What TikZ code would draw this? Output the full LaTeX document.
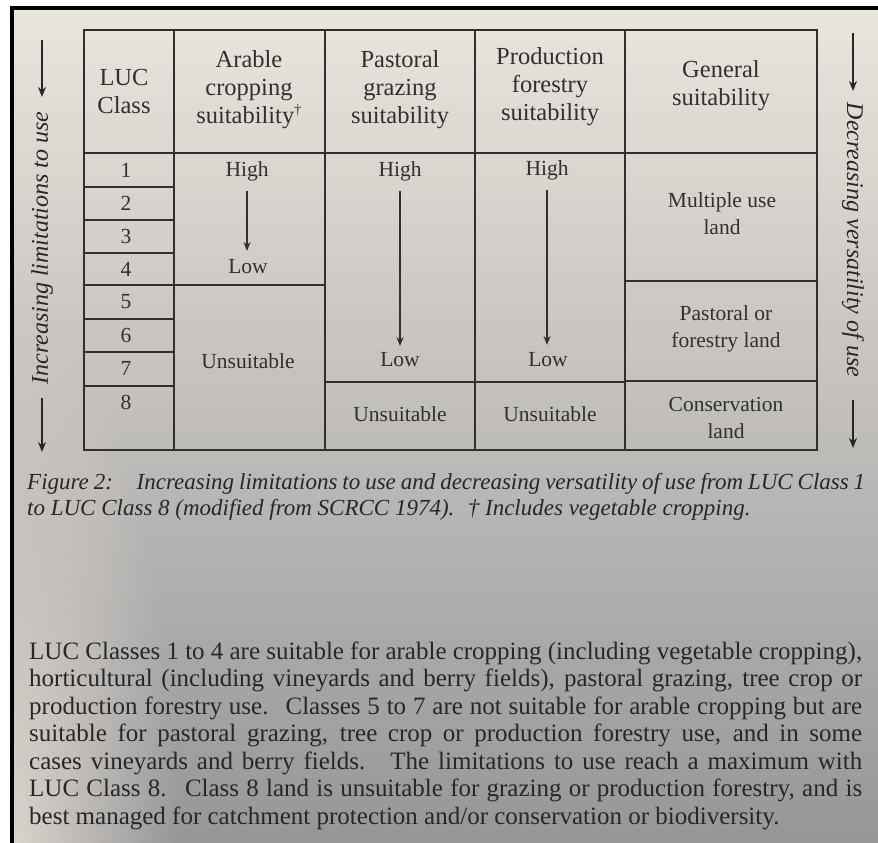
\documentclass[tikz,border=0pt]{standalone}
\usepackage{fontspec}
\setmainfont{Liberation Serif}
\usetikzlibrary{arrows.meta,fadings}
\definecolor{ink}{RGB}{50,48,46}
\definecolor{txt}{RGB}{40,38,38}
\definecolor{pgtop}{RGB}{234,229,221}
\definecolor{pgmid}{RGB}{214,210,204}
\definecolor{pgbot}{RGB}{150,150,153}
\definecolor{pgleft}{RGB}{228,222,212}
\tikzfading[name=softglow, inner color=transparent!0, outer color=transparent!100]
\begin{document}
\begin{tikzpicture}[x=1pt,y=-1pt,
  gridline/.style={line width=1.6pt, draw=ink},
  tx/.style={text=ink, font=\fontsize{21.5}{27}\selectfont, align=center, inner sep=0pt},
  hd/.style={text=ink, font=\fontsize{24.5}{28}\selectfont, align=center, inner sep=0pt},
  arr/.style={line width=1.6pt, draw=ink, -{Stealth[length=9pt,width=7pt]}},
  sidearr/.style={line width=2.2pt, draw=txt, -{Stealth[length=10pt,width=8pt]}},
  sidetx/.style={text=txt, font=\fontsize{24}{26}\itshape, inner sep=0pt},
  captx/.style={text=txt, font=\fontsize{23}{26}\itshape, inner sep=0pt, anchor=mid west},
  body/.style={text=txt, font=\fontsize{25}{27}\selectfont, inner sep=0pt, anchor=mid west}]
\useasboundingbox (0,0) rectangle (878,843);
\fill[white] (0,0) rectangle (878,843);
\shade[top color=pgtop, middle color=pgmid, bottom color=pgbot] (12,8) rectangle (878,843);
\begin{scope}
  \clip (14,8) rectangle (878,843);
  \fill[pgleft, path fading=softglow, opacity=0.85] (-150,300) rectangle (178,1386);
\end{scope}
\draw[line width=4.5pt, black] (12,843) -- (12,8) -- (878,8);

% ---- table grid
\draw[gridline] (84,30) rectangle (817,450);
\draw[gridline] (84,153) -- (817,153);
\draw[gridline] (174,30) -- (174,450);
\draw[gridline] (325,30) -- (325,450);
\draw[gridline] (475,30) -- (475,450);
\draw[gridline] (625,30) -- (625,450);
\foreach \yy in {187,220,253,285,319,352,386} \draw[gridline] (84,\yy) -- (174,\yy);
\draw[gridline] (174,285) -- (325,285);
\draw[gridline] (325,382) -- (625,382);
\draw[gridline] (625,281) -- (817,281);
\draw[gridline] (625,381) -- (817,381);

% ---- header
\node[hd] (hLUC) at (124,92) {LUC\\Class};
\node[hd] (hAra) at (249,90) {Arable\\cropping\\suitability\textsuperscript{\fontsize{14}{14}\selectfont †}};
\node[hd] (hPas) at (400,90) {Pastoral\\grazing\\suitability};
\node[hd] (hPro) at (550,87) {Production\\forestry\\suitability};
\node[hd] (hGen) at (721,86) {General\\suitability};

% ---- class numbers
\node[tx] (c1) at (126,170) {1};
\node[tx] (c2) at (126,203) {2};
\node[tx] (c3) at (126,236) {3};
\node[tx] (c4) at (126,269) {4};
\node[tx] (c5) at (126,302) {5};
\node[tx] (c6) at (126,335) {6};
\node[tx] (c7) at (126,368) {7};
\node[tx] (c8) at (126,402) {8};

% ---- arable
\node[tx] (aHigh) at (247,171) {High};
\node[tx] (aLow) at (248,267) {Low};
\node[tx] (aUns) at (248,361) {Unsuitable};
\coordinate (aS) at (247,191);
\coordinate (aE) at (247,251);
\draw[arr] (aS) -- (aE);

% ---- pastoral
\node[tx] (pHigh) at (400,171) {High};
\node[tx] (pLow) at (400,360) {Low};
\node[tx] (pUns) at (400,414) {Unsuitable};
\coordinate (pS) at (400,191);
\coordinate (pE) at (400,346);
\draw[arr] (pS) -- (pE);

% ---- production
\node[tx] (fHigh) at (547,170) {High};
\node[tx] (fLow) at (548,360) {Low};
\node[tx] (fUns) at (550,414) {Unsuitable};
\coordinate (fS) at (547,190);
\coordinate (fE) at (547,345);
\draw[arr] (fS) -- (fE);

% ---- general
\node[tx] (gMul) at (722,214) {Multiple use\\land};
\node[tx] (gPas) at (726,329) {Pastoral or\\forestry land};
\node[tx] (gCon) at (726,418) {Conservation\\land};

% ---- side labels
\node[sidetx, rotate=90] (lLab) at (42,248) {Increasing limitations to use};
\coordinate (lA1) at (42,40);
\coordinate (lA2) at (42,97);
\coordinate (lB1) at (42,398);
\coordinate (lB2) at (42,452);
\draw[sidearr] (lA1) -- (lA2);
\draw[sidearr] (lB1) -- (lB2);

\node[sidetx, rotate=-90] (rLab) at (853,240) {Decreasing versatility of use};
\coordinate (rA1) at (853,33);
\coordinate (rA2) at (853,91);
\coordinate (rB1) at (853,400);
\coordinate (rB2) at (853,448);
\draw[sidearr] (rA1) -- (rA2);
\draw[sidearr] (rB1) -- (rB2);

% ---- caption
\node[captx] (cap1) at (27,487) {\makebox[838pt][s]{Figure 2: \hspace{0.4em} Increasing limitations to use and decreasing versatility of use from LUC Class 1}};
\node[captx] (cap2) at (27,513) {to LUC Class 8 (modified from SCRCC 1974). \ † Includes vegetable cropping.};

% ---- body text
\node[body] (b1) at (29,657) {\makebox[833pt][s]{LUC Classes 1 to 4 are suitable for arable cropping (including vegetable cropping),}};
\node[body] (b2) at (29,684.5) {\makebox[833pt][s]{horticultural (including vineyards and berry fields), pastoral grazing, tree crop or}};
\node[body] (b3) at (29,712) {\makebox[833pt][s]{production forestry use. \ Classes 5 to 7 are not suitable for arable cropping but are}};
\node[body] (b4) at (29,739.5) {\makebox[833pt][s]{suitable for pastoral grazing, tree crop or production forestry use, and in some}};
\node[body] (b5) at (29,767) {\makebox[833pt][s]{cases vineyards and berry fields. \ The limitations to use reach a maximum with}};
\node[body] (b6) at (29,794.5) {\makebox[833pt][s]{LUC Class 8. \ Class 8 land is unsuitable for grazing or production forestry, and is}};
\node[body] (b7) at (29,822) {best managed for catchment protection and/or conservation or biodiversity.};
\end{tikzpicture}
\end{document}
